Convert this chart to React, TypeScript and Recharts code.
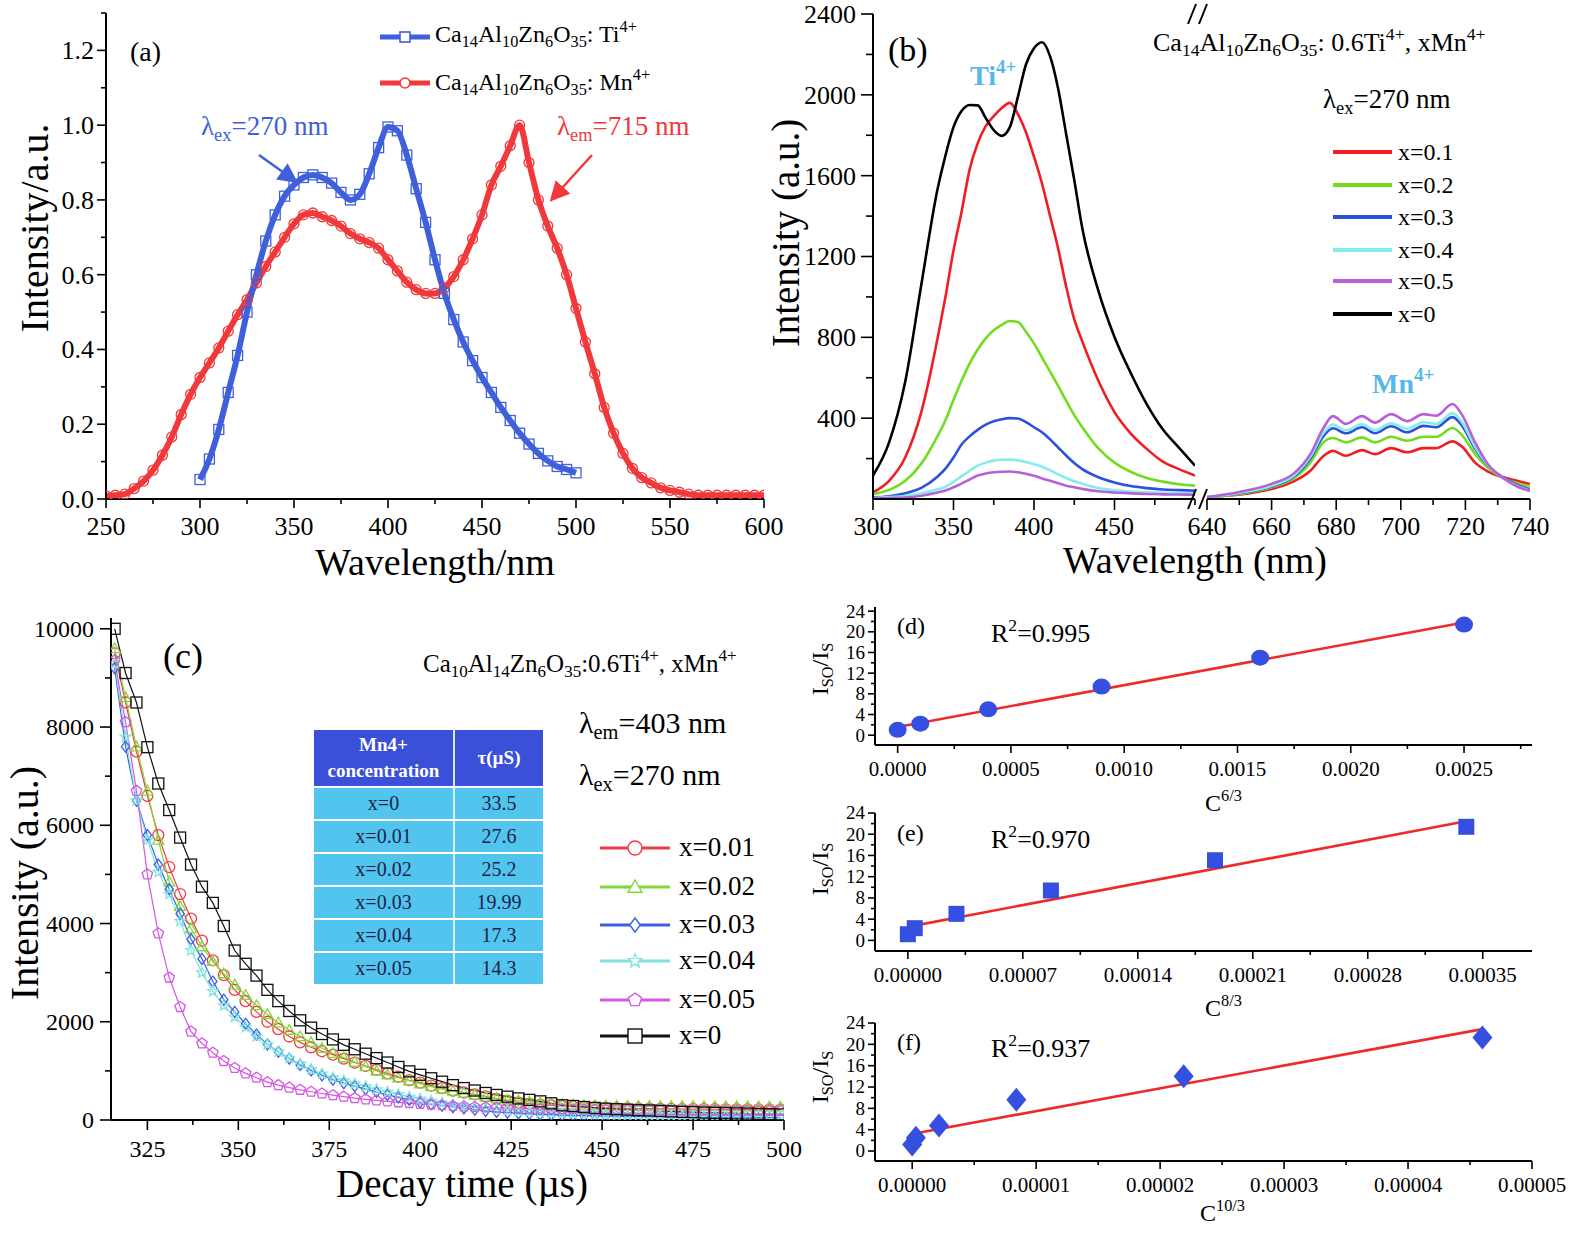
import React from 'react';
import { LineChart, Line, XAxis, YAxis, ComposedChart, Scatter } from 'recharts';

const SERIF = '"Liberation Serif", "Times New Roman", serif';

// ---------- (a) excitation spectra ----------
const wlTi = [300, 305, 310, 315, 320, 325, 330, 335, 340, 345, 350, 355, 360, 365, 370, 375, 380, 385, 390, 395, 400, 405, 410, 415, 420, 425, 430, 435, 440, 445, 450, 455, 460, 465, 470, 475, 480, 485, 490, 495, 500];
const tiExc = [0.052, 0.107, 0.186, 0.285, 0.384, 0.5, 0.6, 0.69, 0.76, 0.81, 0.84, 0.86, 0.867, 0.86, 0.845, 0.82, 0.8, 0.815, 0.87, 0.94, 0.995, 0.985, 0.92, 0.83, 0.74, 0.64, 0.55, 0.48, 0.42, 0.37, 0.325, 0.285, 0.245, 0.21, 0.176, 0.147, 0.122, 0.102, 0.087, 0.079, 0.07];
const wlMn = [250, 255, 260, 265, 270, 275, 280, 285, 290, 295, 300, 305, 310, 315, 320, 325, 330, 335, 340, 345, 350, 355, 360, 365, 370, 375, 380, 385, 390, 395, 400, 405, 410, 415, 420, 425, 430, 435, 440, 445, 450, 455, 460, 465, 470, 475, 480, 485, 490, 495, 500, 505, 510, 515, 520, 525, 530, 535, 540, 545, 550, 555, 560, 565, 570, 575, 580, 585, 590, 595, 600];
const mnExc = [0.008, 0.01, 0.013, 0.028, 0.048, 0.077, 0.117, 0.166, 0.226, 0.28, 0.325, 0.364, 0.404, 0.449, 0.493, 0.533, 0.578, 0.622, 0.661, 0.7, 0.736, 0.76, 0.765, 0.755, 0.745, 0.73, 0.71, 0.696, 0.686, 0.671, 0.64, 0.61, 0.58, 0.56, 0.55, 0.55, 0.565, 0.595, 0.64, 0.696, 0.76, 0.84, 0.89, 0.945, 1.0, 0.9, 0.8, 0.73, 0.671, 0.6, 0.51, 0.42, 0.335, 0.245, 0.176, 0.122, 0.082, 0.057, 0.043, 0.03, 0.023, 0.018, 0.013, 0.01, 0.01, 0.01, 0.01, 0.01, 0.01, 0.01, 0.01];
const aXTicks = [250, 275, 300, 325, 350, 375, 400, 425, 450, 475, 500, 525, 550, 575, 600];
const aXMajor = [250, 300, 350, 400, 450, 500, 550, 600];
const aYTicks = [0, 0.1, 0.2, 0.3, 0.4, 0.5, 0.6, 0.7, 0.8, 0.9, 1.0, 1.1, 1.2, 1.3];
const aYMajor = [0, 0.2, 0.4, 0.6, 0.8, 1.0, 1.2];

// ---------- (b) emission spectra, broken axis ----------
const wlBL = [300, 310, 320, 330, 340, 345, 350, 355, 360, 365, 370, 375, 380, 385, 390, 395, 400, 405, 410, 415, 420, 425, 430, 440, 450, 460, 470, 480, 490, 500];
const bL0 = [116, 280, 580, 1060, 1530, 1700, 1840, 1920, 1950, 1948, 1885, 1825, 1797, 1840, 1990, 2150, 2230, 2260, 2190, 2030, 1805, 1579, 1340, 1030, 802, 625, 470, 345, 254, 165];
const bL01 = [33, 90, 205, 430, 790, 1000, 1230, 1420, 1630, 1760, 1845, 1895, 1935, 1960, 1905, 1815, 1694, 1560, 1400, 1240, 1050, 890, 780, 585, 430, 325, 248, 185, 148, 116];
const bL02 = [25, 45, 90, 175, 310, 390, 490, 585, 670, 740, 795, 835, 862, 881, 876, 828, 770, 700, 630, 560, 485, 415, 355, 250, 180, 135, 104, 86, 73, 66];
const bL03 = [8, 14, 28, 55, 110, 150, 205, 270, 310, 342, 368, 385, 395, 400, 398, 380, 355, 330, 295, 255, 215, 178, 148, 108, 82, 64, 54, 47, 44, 41];
const bL04 = [5, 10, 15, 28, 48, 60, 85, 112, 140, 165, 180, 190, 194, 195, 191, 183, 172, 160, 142, 122, 104, 88, 76, 54, 43, 37, 33, 31, 29, 28];
const bL05 = [2, 5, 7, 16, 32, 42, 58, 76, 96, 116, 126, 132, 135, 136, 132, 125, 115, 102, 90, 78, 66, 58, 50, 38, 32, 28, 25, 23, 22, 21];
const wlBR = [640, 650, 660, 667, 672, 676, 679, 683, 688, 692, 697, 702, 707, 711, 716, 719, 723, 727, 732, 736, 740];
const bR01 = [9, 22, 49, 88, 140, 212, 238, 214, 242, 222, 252, 231, 252, 252, 285, 258, 180, 136, 106, 90, 74];
const bR02 = [9, 25, 58, 104, 180, 280, 302, 280, 305, 280, 308, 288, 308, 308, 351, 315, 222, 155, 102, 78, 58];
const bR03 = [9, 28, 62, 112, 200, 310, 350, 325, 355, 325, 360, 330, 362, 355, 405, 362, 248, 165, 103, 70, 45];
const bR04 = [9, 30, 66, 118, 210, 325, 368, 340, 370, 340, 375, 348, 380, 372, 425, 378, 258, 168, 100, 65, 40];
const bR05 = [10, 35, 75, 128, 222, 350, 410, 372, 410, 378, 420, 385, 420, 412, 470, 415, 280, 172, 100, 62, 40];
const bLXTicks = [300, 325, 350, 375, 400, 425, 450, 475, 500];
const bLXMajor = [300, 350, 400, 450];
const bRXTicks = [640, 650, 660, 670, 680, 690, 700, 710, 720, 730, 740];
const bRXMajor = [640, 660, 680, 700, 720, 740];
const bYTicks = [200, 400, 600, 800, 1000, 1200, 1400, 1600, 1800, 2000, 2200, 2400];
const bYMajor = [400, 800, 1200, 1600, 2000, 2400];
const bLabels = ['x=0.1', 'x=0.2', 'x=0.3', 'x=0.4', 'x=0.5', 'x=0'];
const bColors = ['#f01e23', '#72dd1e', '#2c52dc', '#86ecec', '#b860d8', '#000000'];

// ---------- (c) decay curves ----------
const decayTime = [316, 319, 322, 325, 328, 331, 334, 337, 340, 343, 346, 349, 352, 355, 358, 361, 364, 367, 370, 373, 376, 379, 382, 385, 388, 391, 394, 397, 400, 403, 406, 409, 412, 415, 418, 421, 424, 427, 430, 433, 436, 439, 442, 445, 448, 451, 454, 457, 460, 463, 466, 469, 472, 475, 478, 481, 484, 487, 490, 493, 496, 499];
const dec001 = [9500, 8500, 7500, 6600, 5800, 5150, 4600, 4100, 3650, 3250, 2950, 2650, 2420, 2200, 2000, 1850, 1700, 1580, 1480, 1400, 1330, 1250, 1170, 1100, 1020, 950, 880, 810, 760, 700, 650, 600, 560, 520, 480, 430, 390, 360, 335, 315, 300, 285, 272, 262, 255, 248, 242, 238, 234, 230, 227, 225, 223, 221, 220, 219, 218, 217, 216, 215, 214, 213];
const dec002 = [9600, 8600, 7600, 6700, 5700, 4850, 4350, 3900, 3530, 3230, 2980, 2750, 2540, 2330, 2150, 1980, 1830, 1700, 1580, 1460, 1360, 1270, 1180, 1090, 1000, 920, 860, 800, 740, 680, 630, 590, 550, 510, 470, 440, 410, 390, 370, 350, 335, 320, 310, 300, 295, 290, 287, 285, 283, 281, 280, 279, 278, 277, 276, 275, 274, 273, 272, 271, 270, 270];
const dec003 = [9200, 7600, 6500, 5800, 5200, 4700, 4200, 3680, 3280, 2820, 2450, 2200, 1960, 1740, 1540, 1390, 1250, 1120, 1010, 910, 820, 750, 690, 630, 570, 510, 460, 410, 365, 320, 290, 260, 235, 210, 185, 165, 150, 135, 125, 115, 108, 100, 95, 90, 86, 82, 78, 75, 72, 69, 66, 63, 60, 58, 56, 54, 52, 50, 49, 48, 47, 46];
const dec004 = [9300, 7800, 6500, 5700, 5050, 4600, 4050, 3450, 3000, 2620, 2330, 2100, 1890, 1700, 1540, 1390, 1260, 1140, 1030, 940, 860, 800, 740, 680, 620, 570, 520, 470, 430, 390, 350, 315, 285, 255, 230, 210, 190, 175, 162, 150, 140, 132, 125, 120, 115, 111, 107, 104, 101, 98, 96, 94, 92, 90, 88, 87, 86, 85, 84, 83, 82, 81];
const dec005 = [9360, 8100, 6700, 5000, 3800, 2900, 2300, 1800, 1560, 1370, 1200, 1060, 950, 860, 770, 710, 660, 615, 575, 540, 505, 475, 445, 420, 398, 378, 360, 345, 330, 315, 300, 287, 275, 265, 257, 250, 244, 239, 234, 230, 226, 222, 219, 216, 213, 210, 208, 206, 204, 202, 200, 198, 196, 195, 194, 193, 192, 191, 190, 189, 188, 187];
const dec000 = [10000, 9100, 8500, 7590, 6850, 6310, 5750, 5200, 4750, 4420, 3950, 3450, 3180, 2940, 2650, 2420, 2220, 2030, 1880, 1750, 1640, 1530, 1440, 1350, 1260, 1170, 1080, 990, 920, 850, 780, 710, 650, 600, 550, 510, 475, 440, 410, 380, 340, 300, 285, 265, 245, 230, 220, 210, 200, 195, 185, 175, 165, 160, 150, 145, 140, 135, 130, 125, 120, 115];
const cXTicks = [325, 337.5, 350, 362.5, 375, 387.5, 400, 412.5, 425, 437.5, 450, 462.5, 475, 487.5, 500];
const cXMajor = [325, 350, 375, 400, 425, 450, 475, 500];
const cYTicks = [0, 1000, 2000, 3000, 4000, 5000, 6000, 7000, 8000, 9000, 10000];
const cYMajor = [0, 2000, 4000, 6000, 8000, 10000];
const cLabels = ['x=0.01', 'x=0.02', 'x=0.03', 'x=0.04', 'x=0.05', 'x=0'];
const cColors = ['#f23b44', '#80d83a', '#3d5fe3', '#7ee3df', '#d25ae0', '#111111'];
const cShapes = ['circle', 'triangle', 'diamond', 'star', 'pentagon', 'square'];
const tblConc = ['x=0', 'x=0.01', 'x=0.02', 'x=0.03', 'x=0.04', 'x=0.05'];
const tblTau = ['33.5', '27.6', '25.2', '19.99', '17.3', '14.3'];

// ---------- (d)(e)(f) linear fits ----------
const dX = [0, 0.0001, 0.0004, 0.0009, 0.0016, 0.0025];
const dY = [1.04, 2.23, 5.0, 9.4, 15.0, 21.4];
const dFitX = [0, 0.0025];
const dFitY = [1.6, 21.8];
const eX = [0, 0.0000042, 0.0000296, 0.0000871, 0.000187, 0.00034];
const eY = [1.16, 2.3, 5.0, 9.4, 15.1, 21.4];
const eFitX = [0, 0.000339];
const eFitY = [2.55, 22.4];
const fX = [0, 0.0000003, 0.00000216, 0.0000084, 0.0000219, 0.000046];
const fY = [1.2, 2.5, 4.8, 9.6, 14.0, 21.3];
const fFitX = [0.0000002, 0.000046];
const fFitY = [3.3, 22.85];
const dXTicks = [0, 0.00025, 0.0005, 0.00075, 0.001, 0.00125, 0.0015, 0.00175, 0.002, 0.00225, 0.0025, 0.00275];
const dXMajor = [0, 0.0005, 0.001, 0.0015, 0.002, 0.0025];
const eXTicks = [0, 0.000035, 0.00007, 0.000105, 0.00014, 0.000175, 0.00021, 0.000245, 0.00028, 0.000315, 0.00035];
const eXMajor = [0, 0.00007, 0.00014, 0.00021, 0.00028, 0.00035];
const fXTicks = [0, 0.000005, 0.00001, 0.000015, 0.00002, 0.000025, 0.00003, 0.000035, 0.00004, 0.000045, 0.00005];
const fXMajor = [0, 0.00001, 0.00002, 0.00003, 0.00004, 0.00005];
const fitYTicks = [0, 2, 4, 6, 8, 10, 12, 14, 16, 18, 20, 22, 24];
const fitYMajor = [0, 4, 8, 12, 16, 20, 24];

const zip = (xs: number[], ys: number[]) => xs.map((x, i) => ({ x, y: ys[i] }));

const isMajor = (majors: number[], v: number) =>
  majors.some((m) => Math.abs(m - v) <= Math.abs(m) * 1e-9 + 1e-15);

type TickOpt = { majors: number[]; fmt: (v: number) => string; size: number; len: number; minor: number; offset: number };

const xTick = (o: TickOpt) => (p: any) => {
  const v = p.payload.value;
  const maj = isMajor(o.majors, v);
  return (
    <g key={`xt${v}`}>
      <line x1={p.x} x2={p.x} y1={p.y} y2={p.y + (maj ? o.len : o.minor)} stroke="#000" strokeWidth={1.6} />
      {maj && (
        <text x={p.x} y={p.y + o.offset} textAnchor="middle" fontSize={o.size} fontFamily={SERIF} fill="#000">
          {o.fmt(v)}
        </text>
      )}
    </g>
  );
};

const yTick = (o: TickOpt) => (p: any) => {
  const v = p.payload.value;
  const maj = isMajor(o.majors, v);
  return (
    <g key={`yt${v}`}>
      <line x1={p.x} x2={p.x - (maj ? o.len : o.minor)} y1={p.y} y2={p.y} stroke="#000" strokeWidth={1.6} />
      {maj && (
        <text x={p.x - o.offset} y={p.y + o.size * 0.34} textAnchor="end" fontSize={o.size} fontFamily={SERIF} fill="#000">
          {o.fmt(v)}
        </text>
      )}
    </g>
  );
};

const axisLine = { stroke: '#000', strokeWidth: 2 };

function Marker({ shape, cx, cy, s, color, sw = 1.3, fill = 'none' }: any) {
  const h = s / 2;
  if (shape === 'square') return <rect x={cx - h} y={cy - h} width={s} height={s} fill={fill} stroke={color} strokeWidth={sw} />;
  if (shape === 'circle') return <circle cx={cx} cy={cy} r={h} fill={fill} stroke={color} strokeWidth={sw} />;
  let pts: number[][] = [];
  if (shape === 'triangle') pts = [[0, -h], [h, h * 0.75], [-h, h * 0.75]];
  else if (shape === 'diamond') pts = [[0, -h], [h * 0.75, 0], [0, h], [-h * 0.75, 0]];
  else if (shape === 'pentagon')
    pts = [0, 1, 2, 3, 4].map((k) => {
      const a = -Math.PI / 2 + (k * 2 * Math.PI) / 5;
      return [h * Math.cos(a), h * Math.sin(a)];
    });
  else
    pts = [0, 1, 2, 3, 4, 5, 6, 7, 8, 9].map((k) => {
      const r = k % 2 ? h * 0.45 : h;
      const a = -Math.PI / 2 + (k * Math.PI) / 5;
      return [r * Math.cos(a), r * Math.sin(a)];
    });
  return <polygon points={pts.map((q) => `${cx + q[0]},${cy + q[1]}`).join(' ')} fill={fill} stroke={color} strokeWidth={sw} />;
}

const dotOf = (shape: string, color: string, s: number, sw = 1.3) => (p: any) => (
  <Marker key={`m${p.index}`} shape={shape} cx={p.cx} cy={p.cy} s={s} color={color} sw={sw} />
);

// plot rect -> chart box
function place(L: number, T: number, R: number, B: number, padL: number, padR: number, padT: number, padB: number) {
  return {
    style: { position: 'absolute' as const, left: L - padL, top: T - padT },
    width: R - L + padL + padR,
    height: B - T + padT + padB,
    margin: { top: padT, right: padR, bottom: 0, left: 0 },
    yw: padL,
    xh: padB,
  };
}

const Sub = ({ children }: any) => <span style={{ fontSize: '0.68em', position: 'relative', top: '0.3em' }}>{children}</span>;
const Sup = ({ children }: any) => <span style={{ fontSize: '0.68em', position: 'relative', top: '-0.62em' }}>{children}</span>;

const Txt = ({ x, y, size, color = '#000', bold = false, children }: any) => (
  <div style={{ position: 'absolute', left: x, top: y, fontSize: size, color, fontWeight: bold ? 'bold' : 'normal', lineHeight: 1, whiteSpace: 'nowrap', fontFamily: SERIF }}>
    {children}
  </div>
);
const CTxt = ({ cx, cy, size, rot = false, children }: any) => (
  <div style={{ position: 'absolute', left: cx, top: cy, transform: `translate(-50%,-50%)${rot ? ' rotate(-90deg)' : ''}`, fontSize: size, lineHeight: 1, whiteSpace: 'nowrap', fontFamily: SERIF }}>
    {children}
  </div>
);

function PanelA() {
  const g = place(106, 13, 764, 499, 100, 30, 15, 50);
  const tiData = zip(wlTi, tiExc);
  const mnData = zip(wlMn, mnExc);
  return (
    <div style={g.style}>
      <LineChart width={g.width} height={g.height} margin={g.margin}>
        <XAxis dataKey="x" type="number" domain={[250, 600]} ticks={aXTicks} interval={0} allowDataOverflow height={g.xh}
          tickLine={false} tickSize={0} tickMargin={0} axisLine={axisLine}
          tick={xTick({ majors: aXMajor, fmt: (v) => String(v), size: 26, len: 9, minor: 5, offset: 36 })} />
        <YAxis dataKey="y" type="number" domain={[0, 1.3]} ticks={aYTicks} interval={0} allowDataOverflow width={g.yw}
          tickLine={false} tickSize={0} tickMargin={0} axisLine={axisLine}
          tick={yTick({ majors: aYMajor, fmt: (v) => v.toFixed(1), size: 26, len: 9, minor: 5, offset: 12 })} />
        <XAxis xAxisId="top" orientation="top" type="number" domain={[0, 1]} height={0} tick={false} tickLine={false} axisLine={axisLine} />
        <YAxis yAxisId="right" orientation="right" type="number" domain={[0, 1]} width={0} tick={false} tickLine={false} axisLine={axisLine} />
        <Line data={mnData} dataKey="y" type="monotone" stroke="#f0393b" strokeWidth={6} dot={dotOf('circle', '#f0393b', 10, 1.3)} activeDot={false} isAnimationActive={false} />
        <Line data={tiData} dataKey="y" type="monotone" stroke="#3f60da" strokeWidth={6} dot={dotOf('square', '#3f60da', 10, 1.3)} activeDot={false} isAnimationActive={false} />
      </LineChart>
    </div>
  );
}

function PanelB() {
  const gl = place(873, 14, 1195, 499, 100, 2, 15, 50);
  const gr = place(1207, 14, 1530, 499, 30, 30, 15, 50);
  const left = wlBL.map((w, i) => ({ w, a: bL01[i], b: bL02[i], c: bL03[i], d: bL04[i], e: bL05[i], f: bL0[i] }));
  const right = wlBR.map((w, i) => ({ w, a: bR01[i], b: bR02[i], c: bR03[i], d: bR04[i], e: bR05[i] }));
  const keys = ['a', 'b', 'c', 'd', 'e', 'f'];
  return (
    <>
      <div style={gl.style}>
        <LineChart width={gl.width} height={gl.height} margin={gl.margin} data={left}>
          <XAxis dataKey="w" type="number" domain={[300, 500]} ticks={bLXTicks} interval={0} allowDataOverflow height={gl.xh}
            tickLine={false} tickSize={0} tickMargin={0} axisLine={axisLine}
            tick={xTick({ majors: bLXMajor, fmt: (v) => String(v), size: 26, len: 11, minor: 6, offset: 36 })} />
          <YAxis type="number" domain={[0, 2400]} ticks={bYTicks} interval={0} allowDataOverflow width={gl.yw}
            tickLine={false} tickSize={0} tickMargin={0} axisLine={axisLine}
            tick={yTick({ majors: bYMajor, fmt: (v) => String(v), size: 26, len: 12, minor: 7, offset: 17 })} />
          <XAxis xAxisId="top" orientation="top" type="number" domain={[0, 1]} height={0} tick={false} tickLine={false} axisLine={axisLine} />
          {keys.map((k, i) => (
            <Line key={k} dataKey={k} type="monotone" stroke={bColors[i]} strokeWidth={2.6} dot={false} activeDot={false} isAnimationActive={false} />
          ))}
        </LineChart>
      </div>
      <div style={gr.style}>
        <LineChart width={gr.width} height={gr.height} margin={{ ...gr.margin, left: gr.yw }} data={right}>
          <XAxis dataKey="w" type="number" domain={[640, 740]} ticks={bRXTicks} interval={0} allowDataOverflow height={gr.xh}
            tickLine={false} tickSize={0} tickMargin={0} axisLine={axisLine}
            tick={xTick({ majors: bRXMajor, fmt: (v) => String(v), size: 26, len: 11, minor: 6, offset: 36 })} />
          <YAxis hide type="number" domain={[0, 2400]} allowDataOverflow />
          <XAxis xAxisId="top" orientation="top" type="number" domain={[0, 1]} height={0} tick={false} tickLine={false} axisLine={axisLine} />
          <YAxis yAxisId="right" orientation="right" type="number" domain={[0, 1]} width={0} tick={false} tickLine={false} axisLine={axisLine} />
          {keys.slice(0, 5).map((k, i) => (
            <Line key={k} dataKey={k} type="monotone" stroke={bColors[i]} strokeWidth={2.6} dot={false} activeDot={false} isAnimationActive={false} />
          ))}
        </LineChart>
      </div>
    </>
  );
}

function PanelC() {
  const g = place(111, 618, 784, 1120, 105, 25, 10, 50);
  const rows = decayTime.map((t, i) => ({ t, a: dec001[i], b: dec002[i], c: dec003[i], d: dec004[i], e: dec005[i], f: dec000[i] }));
  const keys = ['a', 'b', 'c', 'd', 'e', 'f'];
  return (
    <div style={g.style}>
      <LineChart width={g.width} height={g.height} margin={g.margin} data={rows}>
        <XAxis dataKey="t" type="number" domain={[315, 500]} ticks={cXTicks} interval={0} allowDataOverflow height={g.xh}
          tickLine={false} tickSize={0} tickMargin={0} axisLine={axisLine}
          tick={xTick({ majors: cXMajor, fmt: (v) => String(v), size: 24, len: 10, minor: 5, offset: 37 })} />
        <YAxis type="number" domain={[0, 10220]} ticks={cYTicks} interval={0} allowDataOverflow width={g.yw}
          tickLine={false} tickSize={0} tickMargin={0} axisLine={axisLine}
          tick={yTick({ majors: cYMajor, fmt: (v) => String(v), size: 24, len: 11, minor: 6, offset: 17 })} />
        <XAxis xAxisId="top" orientation="top" type="number" domain={[0, 1]} height={0} tick={false} tickLine={false} axisLine={axisLine} />
        <YAxis yAxisId="right" orientation="right" type="number" domain={[0, 1]} width={0} tick={false} tickLine={false} axisLine={axisLine} />
        {keys.map((k, i) => (
          <Line key={k} dataKey={k} type="linear" stroke={cColors[i]} strokeWidth={1.2} dot={dotOf(cShapes[i], cColors[i], 11, 1.3)} activeDot={false} isAnimationActive={false} />
        ))}
      </LineChart>
    </div>
  );
}

function FitPanel({ T, B, xDom, yDom, xTicks, xMajor, digits, pts, fit, shape }: any) {
  const g = place(875, T, 1532, B, 60, 42, 16, 40);
  const color = '#3550e0';
  const shapeFn = (p: any) => {
    if (shape === 'circle') return <ellipse cx={p.cx} cy={p.cy} rx={9} ry={8} fill={color} />;
    if (shape === 'square') return <rect x={p.cx - 8} y={p.cy - 8} width={16} height={16} fill={color} />;
    return <polygon points={`${p.cx},${p.cy - 12} ${p.cx + 10},${p.cy} ${p.cx},${p.cy + 12} ${p.cx - 10},${p.cy}`} fill={color} />;
  };
  return (
    <div style={g.style}>
      <ComposedChart width={g.width} height={g.height} margin={g.margin}>
        <XAxis dataKey="x" type="number" domain={xDom} ticks={xTicks} interval={0} allowDataOverflow height={g.xh}
          tickLine={false} tickSize={0} tickMargin={0} axisLine={axisLine}
          tick={xTick({ majors: xMajor, fmt: (v) => v.toFixed(digits), size: 21, len: 8, minor: 4, offset: 31 })} />
        <YAxis dataKey="y" type="number" domain={yDom} ticks={fitYTicks} interval={0} allowDataOverflow width={g.yw}
          tickLine={false} tickSize={0} tickMargin={0} axisLine={axisLine}
          tick={yTick({ majors: fitYMajor, fmt: (v) => String(v), size: 19, len: 7, minor: 4, offset: 10 })} />
        <XAxis xAxisId="top" orientation="top" type="number" domain={[0, 1]} height={0} tick={false} tickLine={false} axisLine={axisLine} />
        <YAxis yAxisId="right" orientation="right" type="number" domain={[0, 1]} width={0} tick={false} tickLine={false} axisLine={axisLine} />
        <Scatter data={pts} dataKey="y" shape={shapeFn} isAnimationActive={false} />
        <Line data={fit} dataKey="y" type="linear" stroke="#ee2a2a" strokeWidth={2.6} dot={false} activeDot={false} isAnimationActive={false} />
      </ComposedChart>
    </div>
  );
}

const IsoLabel = () => (
  <span>I<Sub>SO</Sub>/I<Sub>S</Sub></span>
);

function Overlay() {
  const bRows = [152, 185, 217, 250, 281, 314];
  const cRows = [848, 887, 925, 961, 1000, 1036];
  return (
    <svg width={1577} height={1233} style={{ position: 'absolute', left: 0, top: 0, pointerEvents: 'none' }}>
      <defs>
        <marker id="ahb" markerWidth="8" markerHeight="8" refX="6" refY="4" orient="auto">
          <path d="M0,0 L8,4 L0,8 z" fill="#3f60da" />
        </marker>
        <marker id="ahr" markerWidth="8" markerHeight="8" refX="6" refY="4" orient="auto">
          <path d="M0,0 L8,4 L0,8 z" fill="#f0393b" />
        </marker>
      </defs>
      {/* (a) arrows */}
      <line x1={259} y1={155} x2={294} y2={180} stroke="#3f60da" strokeWidth={2.5} markerEnd="url(#ahb)" />
      <line x1={592} y1={155} x2={553} y2={198} stroke="#f0393b" strokeWidth={2.5} markerEnd="url(#ahr)" />
      {/* (a) legend */}
      <line x1={380} y1={37} x2={430} y2={37} stroke="#3f60da" strokeWidth={5} />
      <Marker shape="square" cx={405} cy={37} s={10} color="#3f60da" sw={1.6} fill="#fff" />
      <line x1={380} y1={83} x2={430} y2={83} stroke="#f0393b" strokeWidth={5} />
      <Marker shape="circle" cx={405} cy={83} s={10} color="#f0393b" sw={1.6} fill="#fff" />
      {/* (b) axis break marks */}
      <line x1={1188} y1={24} x2={1196} y2={4} stroke="#000" strokeWidth={2} />
      <line x1={1199} y1={24} x2={1207} y2={4} stroke="#000" strokeWidth={2} />
      <line x1={1188} y1={509} x2={1196} y2={489} stroke="#000" strokeWidth={2} />
      <line x1={1199} y1={509} x2={1207} y2={489} stroke="#000" strokeWidth={2} />
      {/* (b) legend */}
      {bRows.map((y, i) => (
        <line key={`bl${i}`} x1={1333} y1={y} x2={1392} y2={y} stroke={bColors[i]} strokeWidth={4} />
      ))}
      {/* (c) legend */}
      {cRows.map((y, i) => (
        <g key={`cl${i}`}>
          <line x1={600} y1={y} x2={670} y2={y} stroke={cColors[i]} strokeWidth={3} />
          <Marker shape={cShapes[i]} cx={635} cy={y} s={14} color={cColors[i]} sw={1.4} fill="#fff" />
        </g>
      ))}
    </svg>
  );
}

function DecayTable() {
  const cell = { display: 'flex', alignItems: 'center', justifyContent: 'center', textAlign: 'center' as const };
  return (
    <div style={{ position: 'absolute', left: 314, top: 730, width: 229, fontFamily: SERIF }}>
      <div style={{ display: 'flex', height: 56, background: '#3b50d8', color: '#fff', fontWeight: 'bold', fontSize: 19 }}>
        <div style={{ ...cell, width: 139, borderRight: '2px solid #d6e8ff', lineHeight: 1.35 }}>Mn4+<br />concentration</div>
        <div style={{ ...cell, flex: 1 }}>τ(µS)</div>
      </div>
      {tblConc.map((c, i) => (
        <div key={c} style={{ display: 'flex', height: 31, marginTop: 2, background: '#52c5ee', color: '#1b1f4a', fontSize: 20 }}>
          <div style={{ ...cell, width: 139, borderRight: '2px solid #d6effa' }}>{c}</div>
          <div style={{ ...cell, flex: 1 }}>{tblTau[i]}</div>
        </div>
      ))}
    </div>
  );
}

export default function App() {
  return (
    <div style={{ position: 'absolute', left: 0, top: 0, width: 1577, height: 1233, background: '#fff', fontFamily: SERIF, overflow: 'hidden' }}>
      <PanelA />
      <PanelB />
      <PanelC />
      <FitPanel T={607} B={745} xDom={[-0.0001, 0.0028]} yDom={[-1.9, 24.8]} xTicks={dXTicks} xMajor={dXMajor} digits={4} pts={zip(dX, dY)} fit={zip(dFitX, dFitY)} shape="circle" />
      <FitPanel T={813} B={951} xDom={[-0.00002, 0.00038]} yDom={[-2, 24]} xTicks={eXTicks} xMajor={eXMajor} digits={5} pts={zip(eX, eY)} fit={zip(eFitX, eFitY)} shape="square" />
      <FitPanel T={1023} B={1161} xDom={[-0.000003, 0.00005]} yDom={[-1.87, 24]} xTicks={fXTicks} xMajor={fXMajor} digits={5} pts={zip(fX, fY)} fit={zip(fFitX, fFitY)} shape="diamond" />
      <DecayTable />
      <Overlay />

      {/* (a) texts */}
      <Txt x={130} y={38} size={28}>(a)</Txt>
      <Txt x={435} y={22} size={24}>Ca<Sub>14</Sub>Al<Sub>10</Sub>Zn<Sub>6</Sub>O<Sub>35</Sub>: Ti<Sup>4+</Sup></Txt>
      <Txt x={435} y={70} size={24}>Ca<Sub>14</Sub>Al<Sub>10</Sub>Zn<Sub>6</Sub>O<Sub>35</Sub>: Mn<Sup>4+</Sup></Txt>
      <Txt x={201} y={113} size={27} color="#3f60da">λ<Sub>ex</Sub>=270 nm</Txt>
      <Txt x={557} y={113} size={27} color="#f0393b">λ<Sub>em</Sub>=715 nm</Txt>
      <CTxt cx={35} cy={228} size={40} rot>Intensity/a.u.</CTxt>
      <CTxt cx={435} cy={562} size={38}>Wavelength/nm</CTxt>

      {/* (b) texts */}
      <Txt x={888} y={33} size={34}>(b)</Txt>
      <Txt x={970} y={62} size={28} bold color="#56b8e8">Ti<Sup>4+</Sup></Txt>
      <Txt x={1372} y={370} size={28} bold color="#56b8e8">Mn<Sup>4+</Sup></Txt>
      <Txt x={1153} y={30} size={26}>Ca<Sub>14</Sub>Al<Sub>10</Sub>Zn<Sub>6</Sub>O<Sub>35</Sub>: 0.6Ti<Sup>4+</Sup>, xMn<Sup>4+</Sup></Txt>
      <Txt x={1323} y={86} size={27}>λ<Sub>ex</Sub>=270 nm</Txt>
      {bLabels.map((l, i) => (
        <Txt key={l} x={1398} y={[152, 185, 217, 250, 281, 314][i] - 12} size={24}>{l}</Txt>
      ))}
      <CTxt cx={785} cy={233} size={39} rot>Intensity (a.u.)</CTxt>
      <CTxt cx={1195} cy={560} size={38}>Wavelength (nm)</CTxt>

      {/* (c) texts */}
      <Txt x={163} y={638} size={36}>(c)</Txt>
      <Txt x={423} y={651} size={25}>Ca<Sub>10</Sub>Al<Sub>14</Sub>Zn<Sub>6</Sub>O<Sub>35</Sub>:0.6Ti<Sup>4+</Sup>, xMn<Sup>4+</Sup></Txt>
      <Txt x={579} y={708} size={30}>λ<Sub>em</Sub>=403 nm</Txt>
      <Txt x={579} y={760} size={30}>λ<Sub>ex</Sub>=270 nm</Txt>
      {cLabels.map((l, i) => (
        <Txt key={l} x={679} y={[848, 887, 925, 961, 1000, 1036][i] - 14} size={27}>{l}</Txt>
      ))}
      <CTxt cx={25} cy={883} size={40} rot>Intensity (a.u.)</CTxt>
      <CTxt cx={462} cy={1183} size={39}>Decay time (µs)</CTxt>

      {/* (d)(e)(f) texts */}
      <Txt x={897} y={614} size={24}>(d)</Txt>
      <Txt x={991} y={621} size={26}>R<Sup>2</Sup>=0.995</Txt>
      <CTxt cx={820} cy={669} size={24} rot><IsoLabel /></CTxt>
      <Txt x={1205} y={791} size={24}>C<Sup>6/3</Sup></Txt>

      <Txt x={897} y={821} size={24}>(e)</Txt>
      <Txt x={991} y={827} size={26}>R<Sup>2</Sup>=0.970</Txt>
      <CTxt cx={820} cy={869} size={24} rot><IsoLabel /></CTxt>
      <Txt x={1205} y={996} size={24}>C<Sup>8/3</Sup></Txt>

      <Txt x={897} y={1030} size={24}>(f)</Txt>
      <Txt x={991} y={1036} size={26}>R<Sup>2</Sup>=0.937</Txt>
      <CTxt cx={820} cy={1077} size={24} rot><IsoLabel /></CTxt>
      <Txt x={1200} y={1201} size={24}>C<Sup>10/3</Sup></Txt>
    </div>
  );
}
